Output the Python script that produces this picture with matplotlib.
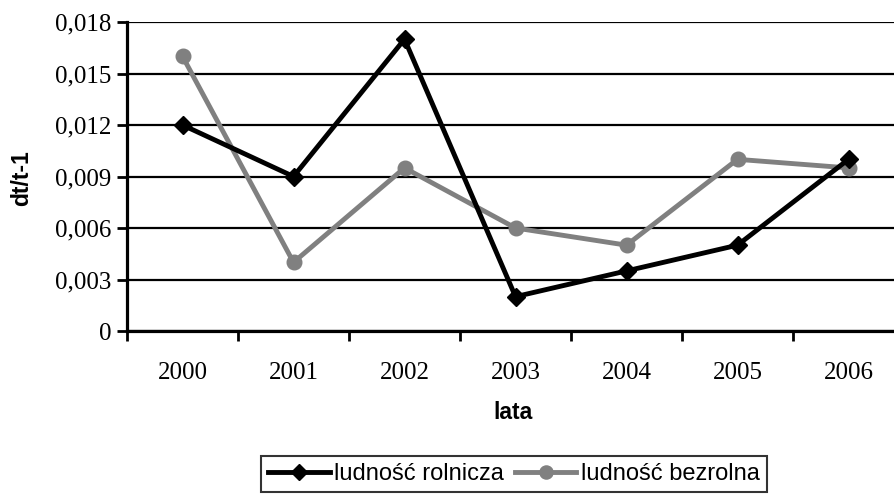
import matplotlib
matplotlib.use("Agg")
import matplotlib.pyplot as plt
from matplotlib.ticker import FuncFormatter

# data
years = ["2000", "2001", "2002", "2003", "2004", "2005", "2006"]
rolnicza = [0.012, 0.009, 0.017, 0.002, 0.0035, 0.005, 0.010]
bezrolna = [0.016, 0.004, 0.0095, 0.006, 0.005, 0.010, 0.0095]
y_ticks = [0, 0.003, 0.006, 0.009, 0.012, 0.015, 0.018]

W, H = 894, 494
fig = plt.figure(figsize=(W / 100, H / 100), dpi=100)
ax = fig.add_axes([127 / W, 1 - 331 / H, 777 / W, 309 / H])

x = list(range(len(years)))
ax.plot(x, bezrolna, color="#808080", lw=3.5, marker="o", ms=10.5,
        label="ludność bezrolna", zorder=3)
ax.plot(x, rolnicza, color="black", lw=3.5, marker="D", ms=9.5,
        label="ludność rolnicza", zorder=4)

ax.set_ylim(0, 0.018)
ax.set_yticks(y_ticks)
ax.yaxis.set_major_formatter(
    FuncFormatter(lambda v, p: "0" if v == 0 else f"{v:.3f}".replace(".", ",")))
ax.set_xlim(-0.5, len(years) - 0.5)
ax.set_xticks([i - 0.5 for i in range(len(years))])
ax.set_xticklabels([])
for i, yr in enumerate(years):
    ax.text(i, -42 / 309, yr, ha="center", va="center", fontsize=18,
            family="Liberation Serif", transform=ax.get_xaxis_transform())

ax.grid(axis="y", color="black", lw=1.6)
ax.set_axisbelow(True)
for s in ["top", "right"]:
    ax.spines[s].set_visible(False)
ax.spines["left"].set_linewidth(2.3)
ax.spines["bottom"].set_linewidth(2.3)
ax.tick_params(axis="both", direction="out", length=7, width=2)
ax.tick_params(axis="y", labelsize=18, pad=4)
for lbl in ax.get_yticklabels():
    lbl.set_family("Liberation Serif")

fig.text(22 / W, 1 - 178 / H, "dt/t-1", rotation=90, ha="center", va="center",
         fontsize=16.5, fontweight="bold", family="Liberation Sans")
fig.text(513 / W, 1 - 412 / H, "lata", ha="center", va="center", fontsize=16.5,
         fontweight="bold", family="Liberation Sans")

handles, labels = ax.get_legend_handles_labels()
leg = fig.legend(handles[::-1], labels[::-1], loc="center",
                 bbox_to_anchor=(514 / W, 1 - 474 / H), ncol=2, frameon=True,
                 fancybox=False, prop={"family": "Liberation Sans", "size": 17},
                 handlelength=2.6, handletextpad=0.2, columnspacing=0.45,
                 borderpad=0.3, borderaxespad=0, markerscale=0.9)
leg.get_frame().set_edgecolor("black")
leg.get_frame().set_linewidth(1.5)

fig.savefig("out.png", dpi=100)
